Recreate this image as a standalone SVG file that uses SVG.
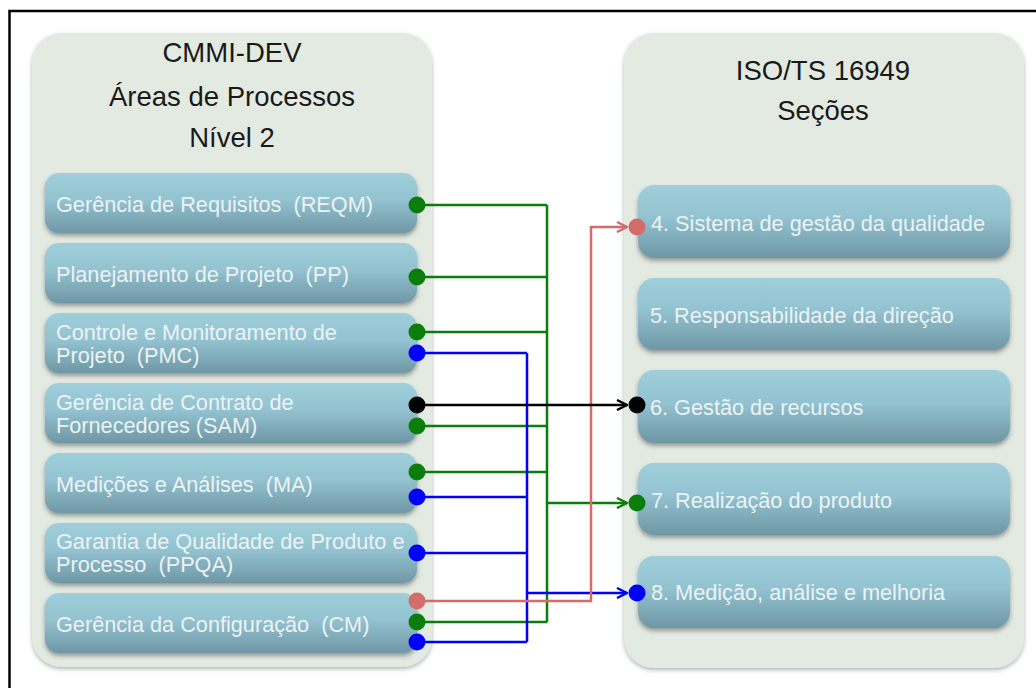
<svg xmlns="http://www.w3.org/2000/svg" width="1036" height="688" viewBox="0 0 1036 688" xml:space="preserve">
  <defs>
    <linearGradient id="boxFill" x1="0" y1="0" x2="0" y2="1">
      <stop offset="0" stop-color="#a0cfdc"/>
      <stop offset="0.45" stop-color="#93c2d0"/>
      <stop offset="1" stop-color="#6f97a5"/>
    </linearGradient>
    <filter id="softShadow" x="-5%" y="-10%" width="110%" height="130%">
      <feDropShadow dx="0" dy="3" stdDeviation="2" flood-color="#303a3c" flood-opacity="0.45"/>
    </filter>
    <filter id="panelShadow" x="-5%" y="-5%" width="110%" height="110%">
      <feDropShadow dx="0" dy="2" stdDeviation="2" flood-color="#505a58" flood-opacity="0.45"/>
    </filter>
    <marker id="arrowGreen" viewBox="0 0 12 12" refX="11" refY="6" markerWidth="12" markerHeight="12" markerUnits="userSpaceOnUse" orient="auto">
      <path d="M1,1 L11,6 L1,11" fill="none" stroke="#0a7d0a" stroke-width="2.4"/>
    </marker>
    <marker id="arrowBlue" viewBox="0 0 12 12" refX="11" refY="6" markerWidth="12" markerHeight="12" markerUnits="userSpaceOnUse" orient="auto">
      <path d="M1,1 L11,6 L1,11" fill="none" stroke="#0000ff" stroke-width="2.4"/>
    </marker>
    <marker id="arrowRed" viewBox="0 0 12 12" refX="11" refY="6" markerWidth="12" markerHeight="12" markerUnits="userSpaceOnUse" orient="auto">
      <path d="M1,1 L11,6 L1,11" fill="none" stroke="#d46c6c" stroke-width="2.4"/>
    </marker>
    <marker id="arrowBlack" viewBox="0 0 12 12" refX="11" refY="6" markerWidth="12" markerHeight="12" markerUnits="userSpaceOnUse" orient="auto">
      <path d="M1,1 L11,6 L1,11" fill="none" stroke="#000" stroke-width="2.4"/>
    </marker>
  </defs>
  <style>
    .panel { fill: #e3eae2; filter: url(#panelShadow); }
    .box { fill: url(#boxFill); filter: url(#softShadow); }
    .title { font-family: "Liberation Sans", Arial, sans-serif; font-size: 27.5px; fill: #1a1a1a; text-anchor: middle; }
    .label { font-family: "Liberation Sans", Arial, sans-serif; font-size: 21.7px; fill: #ecf3f5; white-space: pre; }
    .wire { fill: none; stroke-width: 2.5; }
    .green { stroke: #0a7d0a; }
    .blue { stroke: #0000ff; }
    .red { stroke: #d46c6c; }
    .black { stroke: #000; }
    .dg { fill: #0a7d0a; }
    .db { fill: #0000ff; }
    .dr { fill: #d46c6c; }
    .dk { fill: #000; }
  </style>

  <rect width="1036" height="688" fill="#fff"/>
  <!-- frame -->
  <rect x="9.5" y="11" width="1040" height="700" fill="none" stroke="#000" stroke-width="2.5"/>

  <!-- CMMI-DEV column -->
  <g id="cmmi">
    <rect class="panel" x="32" y="33" width="400" height="634" rx="30"/>
    <text class="title" x="232" y="62">CMMI-DEV</text>
    <text class="title" x="232" y="106">Áreas de Processos</text>
    <text class="title" x="232" y="147">Nível 2</text>
  </g>
  <g id="reqm">
    <rect class="box" x="45" y="173" width="372" height="60" rx="14"/>
    <text class="label" x="56" y="212">Gerência de Requisitos  (REQM)</text>
  </g>
  <g id="pp">
    <rect class="box" x="45" y="243" width="372" height="60" rx="14"/>
    <text class="label" x="56" y="282">Planejamento de Projeto  (PP)</text>
  </g>
  <g id="pmc">
    <rect class="box" x="45" y="313" width="372" height="60" rx="14"/>
    <text class="label" x="56" y="340">Controle e Monitoramento de</text>
    <text class="label" x="56" y="363">Projeto  (PMC)</text>
  </g>
  <g id="sam">
    <rect class="box" x="45" y="383" width="372" height="60" rx="14"/>
    <text class="label" x="56" y="410">Gerência de Contrato de</text>
    <text class="label" x="56" y="433">Fornecedores (SAM)</text>
  </g>
  <g id="ma">
    <rect class="box" x="45" y="453" width="372" height="60" rx="14"/>
    <text class="label" x="56" y="492">Medições e Análises  (MA)</text>
  </g>
  <g id="ppqa">
    <rect class="box" x="45" y="523" width="372" height="60" rx="14"/>
    <text class="label" x="56" y="549">Garantia de Qualidade de Produto e</text>
    <text class="label" x="56" y="572">Processo  (PPQA)</text>
  </g>
  <g id="cm">
    <rect class="box" x="45" y="593" width="372" height="60" rx="14"/>
    <text class="label" x="56" y="632">Gerência da Configuração  (CM)</text>
  </g>

  <!-- ISO/TS 16949 column -->
  <g id="iso">
    <rect class="panel" x="624" y="33" width="400" height="635" rx="30"/>
    <text class="title" x="823" y="80">ISO/TS 16949</text>
    <text class="title" x="823" y="120">Seções</text>
  </g>
  <g id="s4">
    <rect class="box" x="638" y="185" width="372" height="73" rx="16"/>
    <text class="label" x="651" y="231">4. Sistema de gestão da qualidade</text>
  </g>
  <g id="s5">
    <rect class="box" x="638" y="278" width="372" height="72" rx="16"/>
    <text class="label" x="650" y="323">5. Responsabilidade da direção</text>
  </g>
  <g id="s6">
    <rect class="box" x="638" y="370" width="372" height="73" rx="16"/>
    <text class="label" x="650" y="415">6. Gestão de recursos</text>
  </g>
  <g id="s7">
    <rect class="box" x="638" y="463" width="372" height="72" rx="16"/>
    <text class="label" x="651" y="508">7. Realização do produto</text>
  </g>
  <g id="s8">
    <rect class="box" x="638" y="556" width="372" height="72" rx="16"/>
    <text class="label" x="651" y="600">8. Medição, análise e melhoria</text>
  </g>

  <!-- connectors -->
  <g id="connectors">
    <!-- green bus to section 7 -->
    <path class="wire green" d="M417,205 H547 M417,277 H547 M417,332 H547 M417,426 H547 M417,472 H547 M417,622 H547 M547,205 V622"/>
    <path class="wire green" d="M547,503 H627" marker-end="url(#arrowGreen)"/>
    <!-- blue bus to section 8 -->
    <path class="wire blue" d="M417,353 H527 M417,497 H527 M417,553 H527 M417,642 H527 M527,353 V642"/>
    <path class="wire blue" d="M527,593 H627" marker-end="url(#arrowBlue)"/>
    <!-- red: CM to section 4 -->
    <path class="wire red" d="M417,601 H591 V227 H627" marker-end="url(#arrowRed)"/>
    <!-- black: SAM to section 6 -->
    <path class="wire black" d="M417,405 H627" marker-end="url(#arrowBlack)"/>

    <!-- endpoints -->
    <circle class="dg" cx="417" cy="205" r="8.5"/>
    <circle class="dg" cx="417" cy="277" r="8.5"/>
    <circle class="dg" cx="417" cy="332" r="8.5"/>
    <circle class="db" cx="417" cy="353" r="8.5"/>
    <circle class="dk" cx="417" cy="405" r="8.5"/>
    <circle class="dg" cx="417" cy="426" r="8.5"/>
    <circle class="dg" cx="417" cy="472" r="8.5"/>
    <circle class="db" cx="417" cy="497" r="8.5"/>
    <circle class="db" cx="417" cy="553" r="8.5"/>
    <circle class="dr" cx="417" cy="601" r="8.5"/>
    <circle class="dg" cx="417" cy="622" r="8.5"/>
    <circle class="db" cx="417" cy="642" r="8.5"/>

    <circle class="dr" cx="637" cy="227" r="8.5"/>
    <circle class="dk" cx="637" cy="405" r="8.5"/>
    <circle class="dg" cx="637" cy="503" r="8.5"/>
    <circle class="db" cx="637" cy="593" r="8.5"/>
  </g>
</svg>
